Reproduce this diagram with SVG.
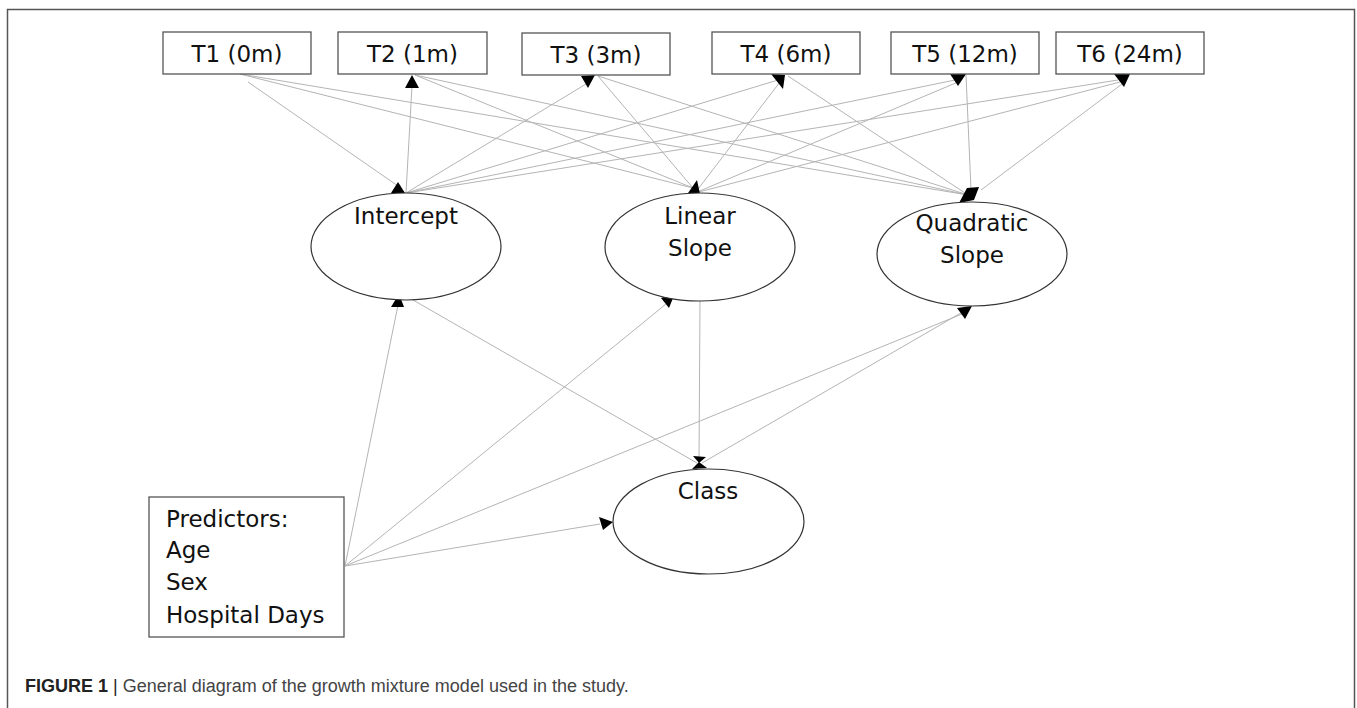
<svg xmlns="http://www.w3.org/2000/svg" width="1357" height="708" viewBox="0 0 1357 708">
<style>
.frame{fill:none;stroke:#555;stroke-width:1.5}
.box{fill:#fff;stroke:#555;stroke-width:1.3}
.ell{fill:#fff;stroke:#333;stroke-width:1.2}
.lbl{font-family:"DejaVu Sans",sans-serif;font-size:23px;fill:#111}
.mid{text-anchor:middle}
.ln{stroke:#b4b4b4;stroke-width:1;fill:none}
.ah{fill:#000}
.cap{font-family:"Liberation Sans",Arial,sans-serif;font-size:18px;fill:#444}
</style>
<rect width="1357" height="708" fill="#fff"/>
<rect class="frame" x="7.5" y="9.5" width="1347" height="710"/>
<g id="connectors">
<line class="ln" x1="248" y1="82" x2="398" y2="186"/>
<line class="ln" x1="240" y1="74" x2="693" y2="188"/>
<line class="ln" x1="240" y1="74" x2="968" y2="195"/>
<line class="ln" x1="412" y1="86" x2="406" y2="193"/>
<line class="ln" x1="415" y1="75" x2="693" y2="188"/>
<line class="ln" x1="415" y1="75" x2="968" y2="195"/>
<line class="ln" x1="406" y1="193" x2="586" y2="84"/>
<line class="ln" x1="598" y1="76" x2="693" y2="188"/>
<line class="ln" x1="598" y1="76" x2="968" y2="195"/>
<line class="ln" x1="406" y1="193" x2="778" y2="80"/>
<line class="ln" x1="695" y1="193" x2="780" y2="82"/>
<line class="ln" x1="788" y1="76" x2="968" y2="195"/>
<line class="ln" x1="406" y1="193" x2="955" y2="80"/>
<line class="ln" x1="695" y1="193" x2="958" y2="82"/>
<line class="ln" x1="966" y1="75" x2="971" y2="190"/>
<line class="ln" x1="406" y1="193" x2="1118" y2="80"/>
<line class="ln" x1="695" y1="193" x2="1120" y2="82"/>
<line class="ln" x1="981" y1="190" x2="1122" y2="84"/>
<line class="ln" x1="345" y1="566" x2="398" y2="305"/>
<line class="ln" x1="345" y1="566" x2="666" y2="304"/>
<line class="ln" x1="345" y1="566" x2="962" y2="314"/>
<line class="ln" x1="345" y1="566" x2="600" y2="524"/>
<line class="ln" x1="413" y1="300" x2="697" y2="463"/>
<line class="ln" x1="700" y1="301" x2="699" y2="462"/>
<line class="ln" x1="966" y1="310" x2="702" y2="463"/>
<!-- arrowheads -->
<polygon class="ah" points="412,75 405,88 419,88"/>
<polygon class="ah" points="581,76 595,75 588,88"/>
<polygon class="ah" points="771,74 785,75 783,89"/>
<polygon class="ah" points="950,74 966,74 958,86"/>
<polygon class="ah" points="1114,74 1130,74 1124,87"/>
<polygon class="ah" points="398,182 391,193 405,193"/>
<polygon class="ah" points="697,180 686,196 700,194"/>
<polygon class="ah" points="967,188 979,187 974,200 959,203"/>
<polygon class="ah" points="399,294 391,307 404,307"/>
<polygon class="ah" points="675,293 661,298 669,308"/>
<polygon class="ah" points="957,308 972,306 965,319"/>
<polygon class="ah" points="613,522 599,517 603,530"/>
<polygon class="ah" points="693,456 706,457 699,463"/>
<polygon class="ah" points="699,462 692,469 707,468"/>
</g>
<g id="T1"><rect class="box" x="163" y="32" width="148" height="42"/><text class="lbl mid" x="237" y="62">T1 (0m)</text></g>
<g id="T2"><rect class="box" x="338" y="32" width="149" height="42"/><text class="lbl mid" x="412.5" y="62">T2 (1m)</text></g>
<g id="T3"><rect class="box" x="522" y="33" width="148" height="42"/><text class="lbl mid" x="596" y="63">T3 (3m)</text></g>
<g id="T4"><rect class="box" x="712" y="32" width="148" height="42"/><text class="lbl mid" x="786" y="62">T4 (6m)</text></g>
<g id="T5"><rect class="box" x="891" y="32" width="148" height="42"/><text class="lbl mid" x="965" y="62">T5 (12m)</text></g>
<g id="T6"><rect class="box" x="1056" y="32" width="148" height="42"/><text class="lbl mid" x="1130" y="62">T6 (24m)</text></g>
<g id="Intercept"><ellipse class="ell" cx="406" cy="246.5" rx="95" ry="53.5"/><text class="lbl mid" x="406" y="224">Intercept</text></g>
<g id="LinearSlope"><ellipse class="ell" cx="700" cy="247" rx="95" ry="54"/><text class="lbl mid" x="700" y="224">Linear</text><text class="lbl mid" x="700" y="256">Slope</text></g>
<g id="QuadraticSlope"><ellipse class="ell" cx="972" cy="254" rx="95" ry="52"/><text class="lbl mid" x="972" y="231">Quadratic</text><text class="lbl mid" x="972" y="263">Slope</text></g>
<g id="Class"><ellipse class="ell" cx="708.5" cy="521.5" rx="95.5" ry="52.5"/><text class="lbl mid" x="708" y="499">Class</text></g>
<g id="Predictors"><rect class="box" x="149" y="497" width="195" height="140"/>
<text class="lbl" x="166" y="527">Predictors:</text>
<text class="lbl" x="166" y="558">Age</text>
<text class="lbl" x="166" y="590">Sex</text>
<text class="lbl" x="166" y="623">Hospital Days</text></g>
<g id="caption"><text class="cap" x="25" y="692"><tspan font-weight="bold" fill="#222">FIGURE 1</tspan> <tspan fill="#222">|</tspan> General diagram of the growth mixture model used in the study.</text></g>
</svg>
